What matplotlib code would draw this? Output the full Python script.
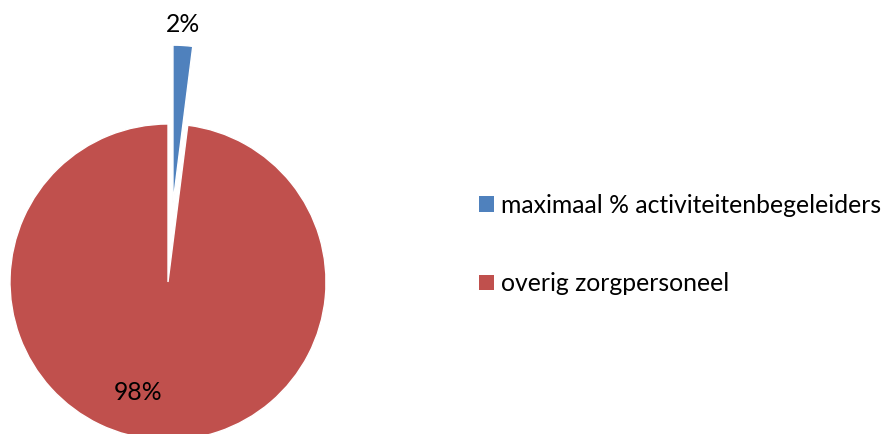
import matplotlib
matplotlib.use("Agg")
import matplotlib.pyplot as plt
from matplotlib.patches import Patch

labels = ["maximaal % activiteitenbegeleiders", "overig zorgpersoneel"]
values = [2, 98]
colors = ["#4F81BD", "#C0504D"]
explode = [0.5, 0.0]

plt.rcParams["font.family"] = ["Lato", "DejaVu Sans"]

W, H = 884, 434
fig = plt.figure(figsize=(W / 100, H / 100), dpi=100)
ax = fig.add_axes([0, 0, 1, 1])

# pie centre and radius in pixels
cx, cy, r = 168, 282, 158
fs = 17.8

wedges, texts, autotexts = ax.pie(
    values, colors=colors, explode=explode, startangle=90, counterclock=False,
    autopct="%1.0f%%", textprops={"fontsize": fs, "color": "black"},
    wedgeprops={"edgecolor": "white", "linewidth": 1},
)
# reposition percentage labels like in the reference
autotexts[0].set_position(((183 - cx) / r, (cy - 25) / r))
autotexts[1].set_position(((138 - cx) / r, (cy - 392) / r))

ax.set_xlim(-cx / r, (W - cx) / r)
ax.set_ylim(-(H - cy) / r, cy / r)
ax.set_aspect("equal", adjustable="datalim")
ax.axis("off")

handles = [Patch(facecolor=c, edgecolor="none") for c in colors]
fig.legend(handles, labels, loc="center left", bbox_to_anchor=(479 / W, 1 - 244.5 / H),
           frameon=False, fontsize=fs, handlelength=0.6, handleheight=0.6,
           handletextpad=0.3, labelspacing=2.25, borderaxespad=0, borderpad=0)

fig.savefig("out.png", dpi=100)
